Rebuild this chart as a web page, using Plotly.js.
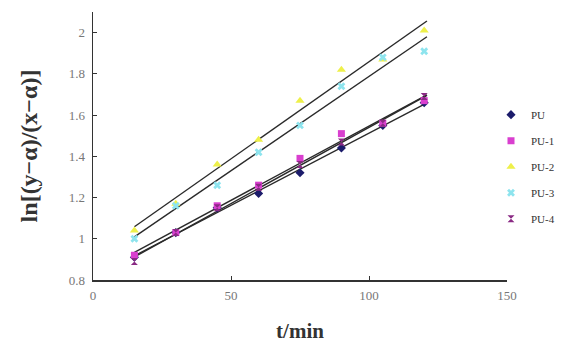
<!DOCTYPE html>
<html><head><meta charset="utf-8">
<script src="https://cdn.plot.ly/plotly-3.0.1.min.js"></script>
<style>html,body{margin:0;padding:0;background:#fff}#c{width:569px;height:343px}</style>
</head><body><div id="c"></div>
<script>
const times = [15,30,45,60,75,90,105,120];
const seriesNames = ['PU','PU-1','PU-2','PU-3','PU-4'];
const PU  = [0.91,1.03,1.15,1.22,1.32,1.44,1.55,1.66];
const PU1 = [0.92,1.03,1.16,1.26,1.39,1.51,1.56,1.67];
const PU2 = [1.04,1.17,1.36,1.48,1.67,1.82,1.87,2.01];
const PU3 = [1.00,1.16,1.26,1.42,1.55,1.74,1.88,1.91];
const PU4 = [0.89,1.03,1.15,1.25,1.36,1.47,1.56,1.69];
const values = [PU,PU1,PU2,PU3,PU4];

const colors = ['#1c1c6b','#d93fcf','#eef04a','#8ee4ee','#8a2a84'];
const symbols = ['diamond','square','triangle-up','x','hourglass'];
const sizes = [7,7,8,7,7];

function fit(x,y){
  const n=x.length, mx=x.reduce((a,b)=>a+b)/n, my=y.reduce((a,b)=>a+b)/n;
  let sxy=0,sxx=0;
  for(let i=0;i<n;i++){sxy+=(x[i]-mx)*(y[i]-my);sxx+=(x[i]-mx)**2;}
  const b=sxy/sxx; return [my-b*mx,b];
}
const traces=[];
values.forEach((v,i)=>{
  const [a,b]=fit(times,v);
  const xs=[times[0], times[times.length-1]+1];
  traces.push({x:xs,y:xs.map(t=>a+b*t),mode:'lines',showlegend:false,hoverinfo:'skip',
    line:{color:'#2a2a2a',width:1.4}});
});
values.forEach((v,i)=>{
  traces.push({x:times,y:v,name:seriesNames[i],mode:'markers',legendgroup:'g'+i,
    marker:{color:colors[i],symbol:symbols[i],size:sizes[i],line:{width:0}}});
});

const font='"Liberation Serif", "Times New Roman", serif';
Plotly.newPlot('c',traces,{
  width:569,height:343,
  margin:{l:93,r:62,t:12,b:63,autoexpand:false},
  paper_bgcolor:'#fff',plot_bgcolor:'#fff',
  font:{family:font,size:11,color:'#555'},
  xaxis:{range:[0,150],dtick:50,showgrid:false,zeroline:false,showline:true,linecolor:'#333',linewidth:1.5,
    ticks:'inside',ticklen:4,tickcolor:'#333',tickfont:{family:font,size:13,color:'#777'},ticklabelstandoff:3,
    title:{text:'t/min',font:{family:font,size:21,color:'#333',weight:'bold'},standoff:22}},
  yaxis:{range:[0.8,2.1],dtick:0.2,tick0:0.8,showgrid:false,zeroline:false,showline:true,linecolor:'#333',linewidth:1.5,
    ticks:'inside',ticklen:4,tickcolor:'#333',tickfont:{family:font,size:13,color:'#777'},ticklabelstandoff:4,
    title:{text:'ln[(y−α)/(x−α)]',font:{family:font,size:24,color:'#333',weight:'bold'},standoff:24}},
  legend:{x:491/569,xref:'container',xanchor:'left',y:0.671,yanchor:'top',traceorder:'grouped',tracegroupgap:7,
    font:{family:font,size:11,color:'#333'},itemwidth:30,bgcolor:'rgba(0,0,0,0)'},
  showlegend:true
},{displayModeBar:false,staticPlot:true});
</script></body></html>
